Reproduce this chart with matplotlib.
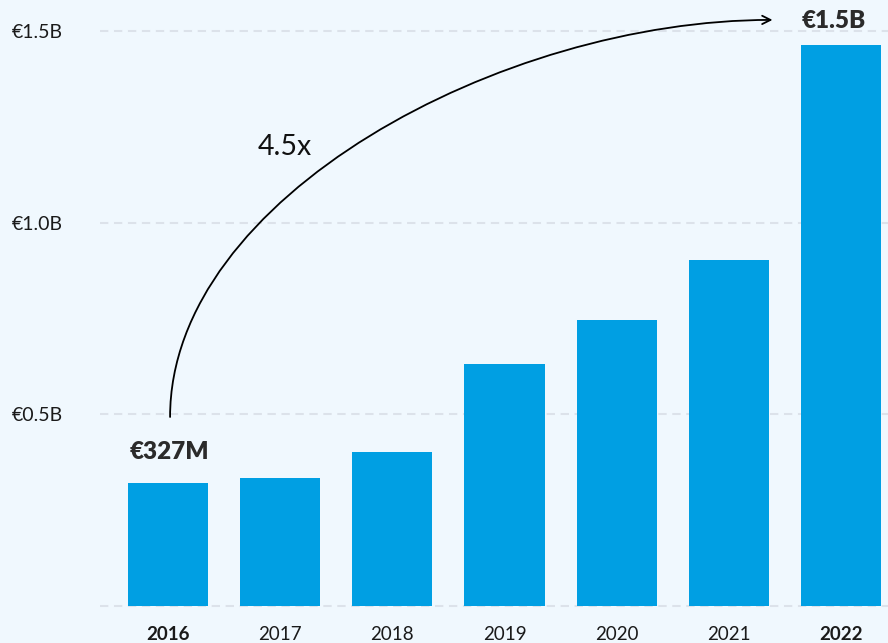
import matplotlib
matplotlib.use("Agg")
import matplotlib.pyplot as plt
from matplotlib.path import Path
from matplotlib.patches import FancyArrowPatch

# --- Data (EUR billions) ---
years = ["2016", "2017", "2018", "2019", "2020", "2021", "2022"]
revenue = [0.320, 0.334, 0.402, 0.632, 0.747, 0.903, 1.465]
bold_years = ["2016", "2022"]
ytick_vals = [0.0, 0.5, 1.0, 1.5]
ytick_labels = ["", "€0.5B", "€1.0B", "€1.5B"]

plt.rcParams['font.family'] = ['Lato', 'DejaVu Sans']

bg = "#F0F8FE"
bar_color = "#009FE3"

fig = plt.figure(figsize=(8.88, 6.43), dpi=100, facecolor=bg)
ax = fig.add_axes([0.1126, 0.0435, 0.8874, 0.9565], facecolor=bg)

x = list(range(len(years)))
ax.bar(x, revenue, width=0.714, color=bar_color, zorder=2)

ax.set_xlim(-0.607, 6.42)
ax.set_ylim(-0.0235, 1.582)

# gridlines
ax.set_yticks(ytick_vals)
ax.set_yticklabels(ytick_labels, fontsize=14, color="#1a1a1a")
ax.grid(axis="y", color="#DCE2EA", linewidth=1.5, linestyle=(0, (4, 2.7)))
ax.set_axisbelow(True)
ax.tick_params(axis="y", length=0, pad=27)

ax.set_xticks(x)
ax.set_xticklabels(years, fontsize=13.5, color="#1a1a1a")
for lbl in ax.get_xticklabels():
    if lbl.get_text() in bold_years:
        lbl.set_fontweight("bold")
ax.tick_params(axis="x", length=0, pad=8)

for s in ax.spines.values():
    s.set_visible(False)

# value labels
ax.text(x[0] + 0.01, 0.402, "€327M", ha="center", va="center",
        fontsize=17.5, fontweight="heavy", color="#2b2b2b")
ax.text(5.94, 1.527, "€1.5B", ha="center", va="center",
        fontsize=17.5, fontweight="heavy", color="#2b2b2b")

# growth arrow
verts = [(0.018, 0.4935), (0.018, 1.068), (2.98, 1.530), (5.39, 1.530)]
codes = [Path.MOVETO, Path.CURVE4, Path.CURVE4, Path.CURVE4]
arrow = FancyArrowPatch(path=Path(verts, codes), arrowstyle="->,head_length=6,head_width=3",
                        color="black", linewidth=1.3, zorder=3)
ax.add_patch(arrow)
ax.text(0.795, 1.198, "4.5x", ha="left", va="center", fontsize=20.5, color="#111111")

fig.savefig("out.png", dpi=100, facecolor=bg)
